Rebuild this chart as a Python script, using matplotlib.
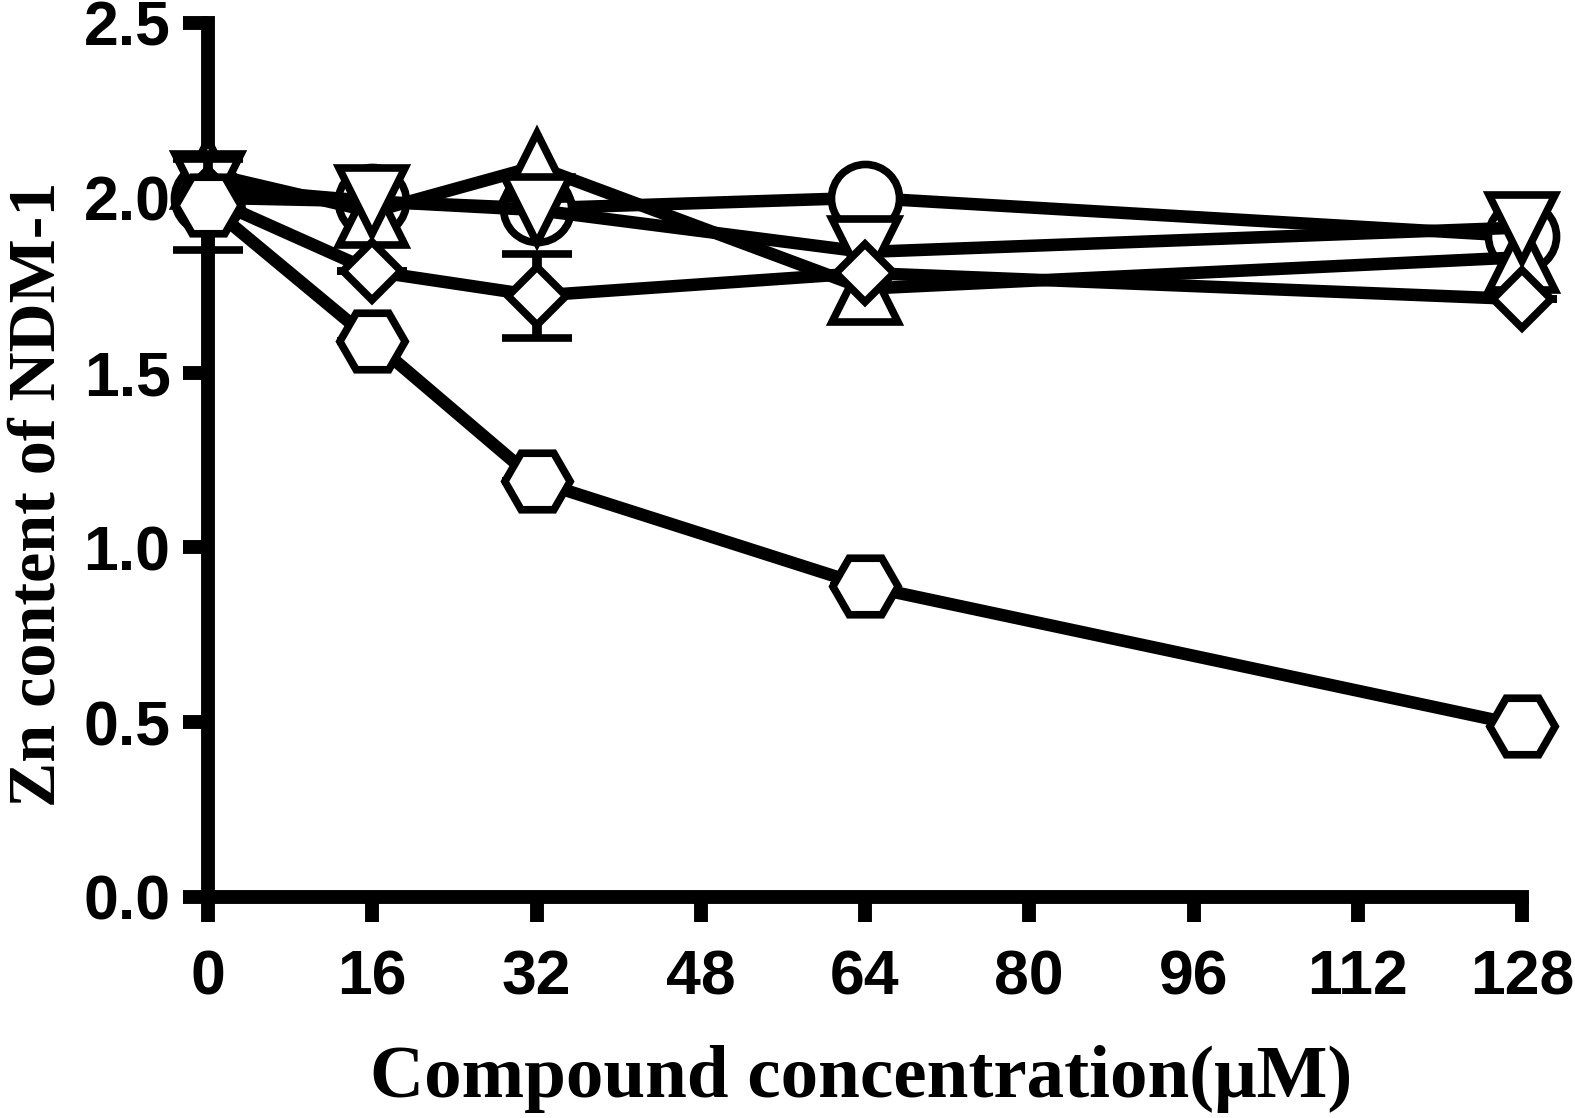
import numpy as np
import matplotlib
matplotlib.use("Agg")
import matplotlib.pyplot as plt

# concentrations (uM)
conc = [0, 16, 32, 64, 128]

# Zn content for each compound
circle_y = [2.00, 1.99, 1.97, 2.00, 1.89]
hexagon_y = [1.98, 1.59, 1.19, 0.89, 0.49]
hexagon_err = [0.13, 0, 0, 0, 0]
tri_up_y = [2.07, 1.96, 2.09, 1.74, 1.83]
tri_down_y = [2.03, 1.99, 1.965, 1.845, 1.915]
diamond_y = [2.00, 1.79, 1.72, 1.785, 1.71]
diamond_err = [0, 0, 0.12, 0, 0]

xticks = [0, 16, 32, 48, 64, 80, 96, 112, 128]
yticks = [0.0, 0.5, 1.0, 1.5, 2.0, 2.5]

fig = plt.figure(figsize=(15.75, 11.18), dpi=100)
ax = fig.add_axes([208 / 1575, 1 - 897 / 1118, 1314 / 1575, 874 / 1118])

lw = 9        # line width
mew = 5.5     # marker edge width
common = dict(color="black", lw=lw, mec="black", mfc="white", mew=mew,
              clip_on=False, capsize=25, capthick=7, elinewidth=7)

ax.errorbar(conc, circle_y, marker="o", ms=49, zorder=4, **common)
ax.errorbar(conc, tri_up_y, marker="^", ms=48, zorder=5, **common)
ax.errorbar(conc, tri_down_y, marker="v", ms=48, zorder=6, **common)
ax.errorbar(conc, diamond_y, yerr=diamond_err, marker="D", ms=30, zorder=7, **common)
ax.errorbar(conc, hexagon_y, yerr=hexagon_err, marker="H", ms=47, zorder=8, **common)

ax.set_xlim(0, 128)
ax.set_ylim(0, 2.5)
ax.set_xticks(xticks)
ax.set_yticks(yticks)
ax.set_yticklabels(["%.1f" % v for v in yticks])

for s in ["top", "right"]:
    ax.spines[s].set_visible(False)
for s in ["left", "bottom"]:
    ax.spines[s].set_linewidth(10)
    ax.spines[s].set_zorder(2)

ax.tick_params(axis="both", width=10, length=18, direction="out")
ax.tick_params(axis="x", pad=19)
ax.tick_params(axis="y", pad=9)
for lab in ax.get_xticklabels() + ax.get_yticklabels():
    lab.set_fontfamily("Liberation Sans")
    lab.set_fontweight("bold")
    lab.set_fontsize(45)

fig.text(861 / 1575, 1 - 1097 / 1118, "Compound concentration(\u03bcM)",
         family="Liberation Serif", weight="bold", fontsize=54,
         ha="center", va="baseline")
fig.text(55 / 1575, 1 - 494 / 1118, "Zn content of NDM-1",
         family="Liberation Serif", weight="bold", fontsize=49,
         rotation=90, rotation_mode="anchor", ha="center", va="baseline")

fig.savefig("out.png", dpi=100)
